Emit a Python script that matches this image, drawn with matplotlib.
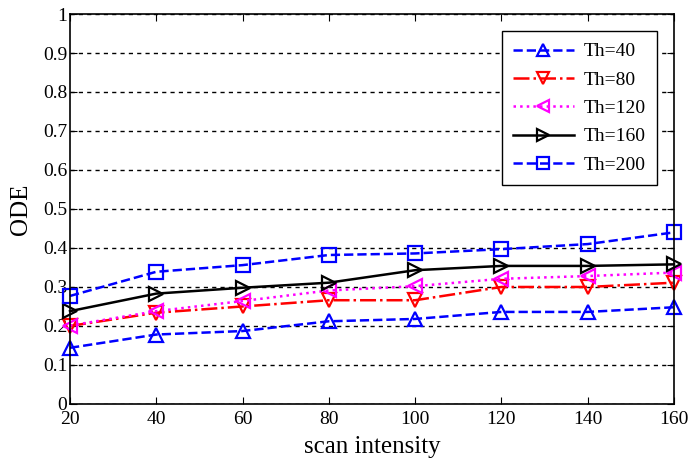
import numpy as np
import matplotlib
matplotlib.use("Agg")
from matplotlib import pyplot as plt

plt.rcParams['font.family'] = ['Liberation Serif', 'DejaVu Serif']

scan = [20, 40, 60, 80, 100, 120, 140, 160]
th40 = [0.144, 0.178, 0.187, 0.212, 0.218, 0.236, 0.236, 0.248]
th80 = [0.200, 0.234, 0.250, 0.266, 0.266, 0.300, 0.300, 0.311]
th120 = [0.201, 0.238, 0.264, 0.291, 0.302, 0.321, 0.328, 0.337]
th160 = [0.238, 0.283, 0.298, 0.311, 0.343, 0.354, 0.354, 0.358]
th200 = [0.277, 0.339, 0.356, 0.382, 0.386, 0.397, 0.410, 0.440]
labels = ['Th=40', 'Th=80', 'Th=120', 'Th=160', 'Th=200']

fig = plt.figure(figsize=(6.89, 4.67), dpi=100)
ax = fig.add_axes([0.1016, 0.135, 0.8766, 0.835])

styles = [
    dict(color='#0000ff', linestyle='--', marker='^'),
    dict(color='#ff0000', linestyle='-.', marker='v'),
    dict(color='#ff00ff', linestyle=':', marker='<'),
    dict(color='black', linestyle='-', marker='>'),
    dict(color='#0000ff', linestyle='--', marker='s'),
]
for ys, lab, st in zip([th40, th80, th120, th160, th200], labels, styles):
    ax.plot(scan, ys, label=lab, linewidth=1.8, markersize=10,
            markerfacecolor='none', markeredgewidth=1.6, clip_on=False, **st)

ax.set_xlim(20, 160)
ax.set_ylim(0, 1)
ax.set_xticks(scan)
ax.set_yticks(np.arange(0, 1.01, 0.1))
ax.set_yticklabels(['0', '0.1', '0.2', '0.3', '0.4', '0.5', '0.6', '0.7', '0.8', '0.9', '1'])
ax.yaxis.grid(True, linestyle=(0, (3, 3)), color='black', linewidth=1)
ax.tick_params(direction='in', labelsize=14, length=5, top=True, right=True)
ax.tick_params(axis='y', pad=2)
ax.tick_params(axis='x', pad=5)
for sp in ax.spines.values():
    sp.set_linewidth(1.2)

ax.set_xlabel('scan intensity', fontsize=18, labelpad=6)
ax.set_ylabel('ODE', fontsize=18, labelpad=8)

leg = ax.legend(loc='upper right', bbox_to_anchor=(0.972, 0.956), borderaxespad=0,
                fontsize=14, fancybox=False, edgecolor='black', framealpha=1,
                handlelength=3.1, handletextpad=0.5, labelspacing=0.55,
                borderpad=0.6, markerscale=0.8)
leg.get_frame().set_linewidth(1.0)

fig.savefig('out.png', dpi=100)
